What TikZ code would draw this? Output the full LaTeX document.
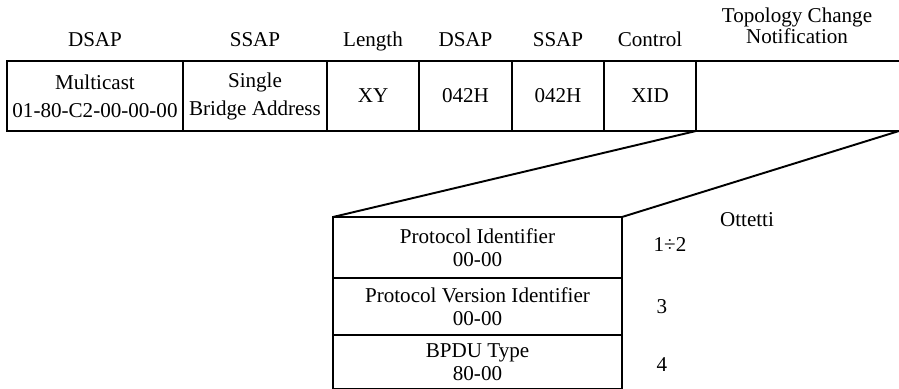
\documentclass[tikz,border=0pt]{standalone}
\usepackage{fontspec}
\setmainfont{Liberation Serif}
\usetikzlibrary{positioning}
\tikzset{
  cell/.style={draw,line width=1.1pt,outer sep=0pt,align=center,inner sep=1pt,minimum height=1.4cm,font=\fontsize{12}{15.9}\selectfont},
  row/.style={cell,minimum width=5.78cm,minimum height=1.14cm,font=\fontsize{12}{13.2}\selectfont},
  hdr/.style={align=center,inner sep=0pt,anchor=base,font=\fontsize{12}{12}\selectfont},
  note/.style={inner sep=0pt,font=\fontsize{12}{14.4}\selectfont},
  zoomline/.style={line width=1.1pt}
}
\begin{document}
\begin{tikzpicture}[x=1cm,y=1cm]
  \clip (0,0) rectangle (17.98,7.76);
  % frame header
  \node[cell,minimum width=3.52cm] (dsapA) at (1.90,5.84) {Multicast\\01-80-C2-00-00-00};
  \node[cell,minimum width=2.88cm] (ssapA) at (5.10,5.84) {Single\\Bridge Address};
  \node[cell,minimum width=1.84cm] (len) at (7.46,5.84) {XY};
  \node[cell,minimum width=1.86cm] (dsapB) at (9.31,5.84) {042H};
  \node[cell,minimum width=1.84cm] (ssapB) at (11.16,5.84) {042H};
  \node[cell,minimum width=1.84cm] (ctrl) at (13.00,5.84) {XID};
  \node[cell,draw=none,minimum width=4.06cm] (tcn) at (15.95,5.84) {};
  \draw[zoomline] (tcn.north west)--(tcn.north east) (tcn.south west)--(tcn.south east);
  \node[hdr] at (1.90,6.82) {DSAP};
  \node[hdr] at (5.10,6.82) {SSAP};
  \node[hdr] at (7.46,6.82) {Length};
  \node[hdr] at (9.31,6.82) {DSAP};
  \node[hdr] at (11.16,6.82) {SSAP};
  \node[hdr] at (13.00,6.82) {Control};
  \node[hdr,anchor=center] at (15.94,7.24) {Topology Change\\Notification};
  % BPDU detail
  \node[row,minimum height=1.22cm] (pid) at (9.55,2.81) {Protocol Identifier\\00-00};
  \node[row,below=0pt of pid] (pvid) {Protocol Version Identifier\\00-00};
  \node[row,below=0pt of pvid,minimum height=1.08cm] (btype) {BPDU Type\\80-00};
  \draw[zoomline] (ctrl.south east)--(pid.north west);
  \draw[zoomline] (tcn.south east)--(pid.north east);
  \node[note] at (14.94,3.36) {Ottetti};
  \node[note] at (13.40,2.86) {1÷2};
  \node[note] at (13.24,1.62) {3};
  \node[note] at (13.24,0.46) {4};
\end{tikzpicture}
\end{document}
